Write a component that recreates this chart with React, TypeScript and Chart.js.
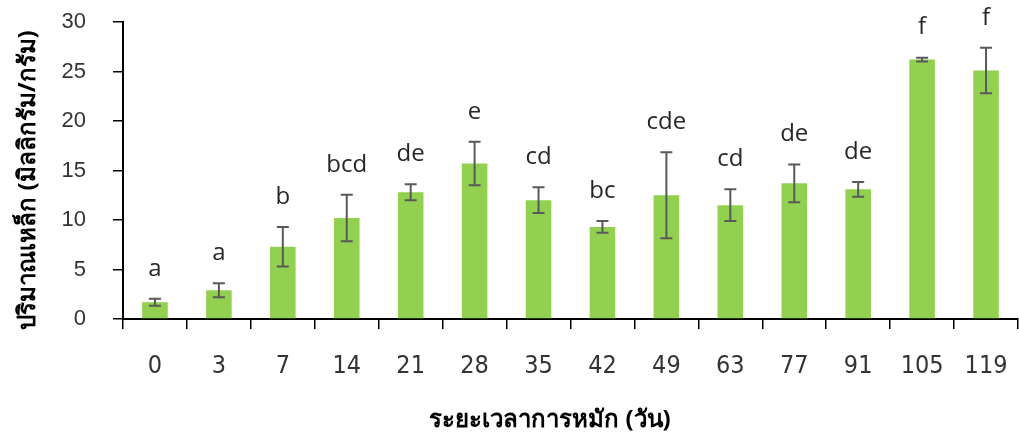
import React, { useEffect, useRef } from "react";
import { Chart, registerables } from "chart.js";

Chart.register(...registerables);

const categories = ["0", "3", "7", "14", "21", "28", "35", "42", "49", "63", "77", "91", "105", "119"];
const ironValues = [1.7, 2.9, 7.3, 10.2, 12.8, 15.7, 12.0, 9.3, 12.5, 11.5, 13.7, 13.1, 26.2, 25.1];
const ironErrors = [0.35, 0.7, 2.0, 2.35, 0.8, 2.2, 1.3, 0.6, 4.35, 1.6, 1.9, 0.75, 0.2, 2.3];
const groupLetters = ["a", "a", "b", "bcd", "de", "e", "cd", "bc", "cde", "cd", "de", "de", "f", "f"];
const yTickValues = [0, 5, 10, 15, 20, 25, 30];

const yTitle = "ปริมาณเหล็ก (มิลลิกรัม/กรัม)";
const xTitle = "ระยะเวลาการหมัก (วัน)";

const errorBarPlugin = {
  id: "errorBars",
  afterDatasetsDraw(chart: any) {
    const meta = chart.getDatasetMeta(0);
    const y = chart.scales.y;
    const ctx = chart.ctx;
    ctx.save();
    meta.data.forEach((bar: any, i: number) => {
      const v = ironValues[i];
      const e = ironErrors[i];
      const yTop = y.getPixelForValue(v + e);
      const yBot = y.getPixelForValue(v - e);
      const x = bar.x;
      ctx.strokeStyle = "#595959";
      ctx.lineWidth = 2;
      ctx.beginPath();
      ctx.moveTo(x, yTop);
      ctx.lineTo(x, yBot);
      ctx.moveTo(x - 6, yTop);
      ctx.lineTo(x + 6, yTop);
      ctx.moveTo(x - 6, yBot);
      ctx.lineTo(x + 6, yBot);
      ctx.stroke();
      ctx.fillStyle = "#262626";
      ctx.font = "24px 'Open Sans', sans-serif";
      ctx.textAlign = "center";
      ctx.textBaseline = "middle";
      ctx.fillText(groupLetters[i], x, yTop - 30);
    });
    ctx.restore();
  },
};

const titlesPlugin = {
  id: "axisTitles",
  afterDraw(chart: any) {
    const ctx = chart.ctx;
    ctx.save();
    ctx.fillStyle = "#000";
    ctx.font = "bold 24px 'Noto Sans', sans-serif";
    ctx.textAlign = "center";
    ctx.textBaseline = "middle";
    ctx.fillText(xTitle, 550, 420);
    ctx.translate(28, 180);
    ctx.rotate(-Math.PI / 2);
    ctx.fillText(yTitle, 0, 0);
    ctx.restore();
  },
};

export default function App() {
  const canvasRef = useRef<HTMLCanvasElement | null>(null);

  useEffect(() => {
    document.body.style.margin = "0";
    const canvas = canvasRef.current;
    if (!canvas) return;
    const chart = new Chart(canvas, {
      type: "bar",
      data: {
        labels: categories,
        datasets: [
          {
            data: ironValues,
            backgroundColor: "#92D050",
            borderWidth: 0,
            barPercentage: 0.4,
            categoryPercentage: 1,
          },
        ],
      },
      options: {
        animation: false,
        responsive: false,
        maintainAspectRatio: false,
        layout: { padding: { top: 22, right: 1, left: 0, bottom: 0 } },
        plugins: { legend: { display: false }, tooltip: { enabled: false } },
        scales: {
          x: {
            grid: {
              display: true,
              drawOnChartArea: false,
              drawTicks: true,
              tickLength: 10,
              color: "#000",
              lineWidth: 1.5,
              offset: true,
            },
            border: { display: true, color: "#000", width: 2 },
            ticks: {
              color: "#333",
              padding: 22,
              maxRotation: 0,
              font: { family: "'Liberation Sans Narrow', 'DejaVu Sans Condensed', sans-serif", size: 25 },
            },
            title: { display: false, text: xTitle },
            afterFit: (s: any) => {
              s.height = 117;
              s.paddingLeft = 0;
              s.paddingRight = 0;
            },
          },
          y: {
            min: 0,
            max: 30,
            afterBuildTicks: (s: any) => {
              s.ticks = yTickValues.map((v) => ({ value: v }));
            },
            grid: {
              display: true,
              drawOnChartArea: false,
              drawTicks: true,
              tickLength: 10,
              color: "#000",
              lineWidth: 1.5,
            },
            border: { display: true, color: "#000", width: 2 },
            ticks: {
              color: "#333",
              padding: 27,
              font: { family: "'Liberation Sans', Arial, sans-serif", size: 22 },
            },
            title: { display: false, text: yTitle },
            afterFit: (s: any) => {
              s.width = 123;
              s.paddingTop = 0;
              s.paddingBottom = 0;
            },
          },
        },
      },
      plugins: [errorBarPlugin, titlesPlugin],
    });
    return () => chart.destroy();
  }, []);

  return (
    <div style={{ position: "absolute", left: 0, top: 0, width: 1019, height: 436 }}>
      <canvas ref={canvasRef} width={1019} height={436} style={{ width: 1019, height: 436 }} />
    </div>
  );
}
